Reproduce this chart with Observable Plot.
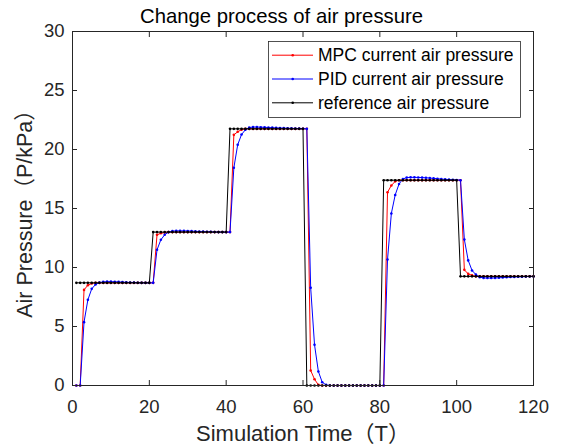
<!DOCTYPE html>
<html><head><meta charset="utf-8">
<script src="https://cdn.jsdelivr.net/npm/d3@7"></script>
<script src="https://cdn.jsdelivr.net/npm/@observablehq/plot@0.6"></script>
<style>body{margin:0;background:#fff} svg{display:block}</style>
</head><body><div id="chart"></div>
<script>
// time steps (sample index)
const time = d3.range(1, 121);

const reference = [
  8.7,8.7,8.7,8.7,8.7,8.7,8.7,8.7,8.7,8.7,8.7,8.7,8.7,8.7,8.7,8.7,8.7,8.7,8.7,8.7,
  13,13,13,13,13,13,13,13,13,13,13,13,13,13,13,13,13,13,13,13,
  21.75,21.75,21.75,21.75,21.75,21.75,21.75,21.75,21.75,21.75,21.75,21.75,21.75,21.75,21.75,21.75,21.75,21.75,21.75,21.75,
  0,0,0,0,0,0,0,0,0,0,0,0,0,0,0,0,0,0,0,0,
  17.4,17.4,17.4,17.4,17.4,17.4,17.4,17.4,17.4,17.4,17.4,17.4,17.4,17.4,17.4,17.4,17.4,17.4,17.4,17.4,
  9.25,9.25,9.25,9.25,9.25,9.25,9.25,9.25,9.25,9.25,9.25,9.25,9.25,9.25,9.25,9.25,9.25,9.25,9.25,9.25
];

const mpc = [
  0,0,
  8.1,8.5,8.65,8.7,8.7,8.7,8.7,8.7,8.7,8.7,8.7,8.7,8.7,8.7,8.7,8.7,8.7,8.7,8.7,
  12.77,12.9,12.97,13,13,13,13,13,13,13,13,13,13,13,13,13,13,13,13,13,
  21.24,21.5,21.68,21.75,21.75,21.75,21.75,21.75,21.75,21.75,21.75,21.75,21.75,21.75,21.75,21.75,21.75,21.75,21.75,21.75,
  1.27,0.53,0.05,0,0,0,0,0,0,0,0,0,0,0,0,0,0,0,0,0,
  16.38,16.95,17.3,17.4,17.4,17.4,17.4,17.4,17.4,17.4,17.4,17.4,17.4,17.4,17.4,17.4,17.4,17.4,17.4,17.4,
  9.8,9.46,9.33,9.25,9.25,9.25,9.25,9.25,9.25,9.25,9.25,9.25,9.25,9.25,9.25,9.25,9.25,9.25,9.25
];

const pid = [
  0,0,
  5.37,7.26,8.19,8.56,8.72,8.78,8.8,8.8,8.79,8.78,8.76,8.74,8.73,8.72,8.71,8.7,8.7,8.7,8.7,
  11.5,12.35,12.77,13.0,13.08,13.1,13.1,13.1,13.09,13.08,13.06,13.05,13.04,13.03,13.02,13.01,13.0,13.0,13.0,13.0,
  18.45,20.4,21.27,21.67,21.86,21.9,21.9,21.89,21.88,21.86,21.85,21.83,21.82,21.81,21.8,21.79,21.78,21.77,21.76,21.75,
  8.28,3.45,1.19,0.28,0.05,0,0,0,0,0,0,0,0,0,0,0,0,0,0,0,
  10.68,14.58,16.15,17.08,17.5,17.62,17.64,17.64,17.63,17.62,17.6,17.58,17.55,17.52,17.49,17.47,17.45,17.43,17.42,17.4,
  12.37,10.6,9.75,9.4,9.18,9.12,9.11,9.11,9.12,9.13,9.15,9.17,9.19,9.2,9.21,9.22,9.23,9.24,9.24
];

const seriesNames = ["MPC current air pressure", "PID current air pressure", "reference air pressure"];
const seriesColors = ["#ff0000", "#0000ff", "#000000"];
const xTicks = [0, 20, 40, 60, 80, 100, 120];
const yTicks = [0, 5, 10, 15, 20, 25, 30];
const titleText = "Change process of air pressure";
const xLabel = "Simulation Time（T）";
const yLabel = "Air Pressure（P/kPa）";

const seriesValues = [mpc, pid, reference];
const FONT = '"Liberation Sans", Arial, "Noto Sans CJK SC", sans-serif';
const AX = "#262626";

const seriesMarks = [];
seriesValues.forEach((vals, i) => {
  const rows = vals.map((v, j) => ({t: time[j], p: v}));
  seriesMarks.push(Plot.line(rows, {x: "t", y: "p", stroke: seriesColors[i], strokeWidth: 1}));
  seriesMarks.push(Plot.dot(rows, {x: "t", y: "p", fill: seriesColors[i], r: 1.3, stroke: null}));
});

const chart = Plot.plot({
  width: 561,
  height: 447,
  marginLeft: 72,
  marginRight: 28,
  marginTop: 31,
  marginBottom: 62,
  style: {fontFamily: FONT, fontSize: "18.5px", color: AX, background: "#fff"},
  x: {domain: [0, 120]},
  y: {domain: [0, 30]},
  marks: [
    ...seriesMarks,
    Plot.frame({stroke: AX, strokeWidth: 1}),
    // tick labels
    Plot.axisX(xTicks, {anchor: "bottom", tickSize: 0, tickPadding: 14, label: null, fontSize: 18.5, fill: AX}),
    Plot.axisY(yTicks, {anchor: "left", tickSize: 0, tickPadding: 8, label: null, fontSize: 18.5, fill: AX}),
    // inward ticks on all four sides
    Plot.axisX(xTicks, {anchor: "bottom", tickSize: -5, fill: "none", label: null, stroke: AX}),
    Plot.axisX(xTicks, {anchor: "top", tickSize: -5, fill: "none", label: null, stroke: AX}),
    Plot.axisY(yTicks, {anchor: "left", tickSize: -5, fill: "none", label: null, stroke: AX}),
    Plot.axisY(yTicks, {anchor: "right", tickSize: -5, fill: "none", label: null, stroke: AX}),
    // title and axis labels
    Plot.text([titleText], {frameAnchor: "top", text: d => d, dx: -21.5, dy: -15.5, fontSize: 20.3, fill: "#000", lineAnchor: "middle", textAnchor: "middle"}),
    Plot.text([xLabel], {frameAnchor: "bottom", text: d => d, dx: 0, dy: 48, fontSize: 22, fill: AX, lineAnchor: "middle", textAnchor: "middle"}),
    Plot.text([yLabel], {frameAnchor: "left", text: d => d, dx: -47, dy: 0, rotate: -90, fontSize: 21.5, fill: AX, lineAnchor: "middle", textAnchor: "middle"})
  ]
});

// legend (MATLAB-style box with line+marker swatches)
const svg = d3.select(chart);
const lg = svg.append("g").attr("font-family", FONT).attr("font-size", 17.5).attr("text-anchor", "start");
lg.append("rect").attr("x", 268.5).attr("y", 41.5).attr("width", 252).attr("height", 76)
  .attr("fill", "#fff").attr("stroke", AX).attr("stroke-width", 0.8);
seriesNames.forEach((name, i) => {
  const y = 55.2 + i * 23.8;
  lg.append("line").attr("x1", 272).attr("x2", 313).attr("y1", y).attr("y2", y)
    .attr("stroke", seriesColors[i]).attr("stroke-width", 1);
  lg.append("circle").attr("cx", 292.7).attr("cy", y).attr("r", 1.3).attr("fill", seriesColors[i]);
  lg.append("text").attr("x", 318).attr("y", y).attr("dy", "0.35em").attr("fill", "#000")
    .attr("text-anchor", "start").text(name);
});

document.getElementById("chart").appendChild(chart);
</script>
</body></html>
